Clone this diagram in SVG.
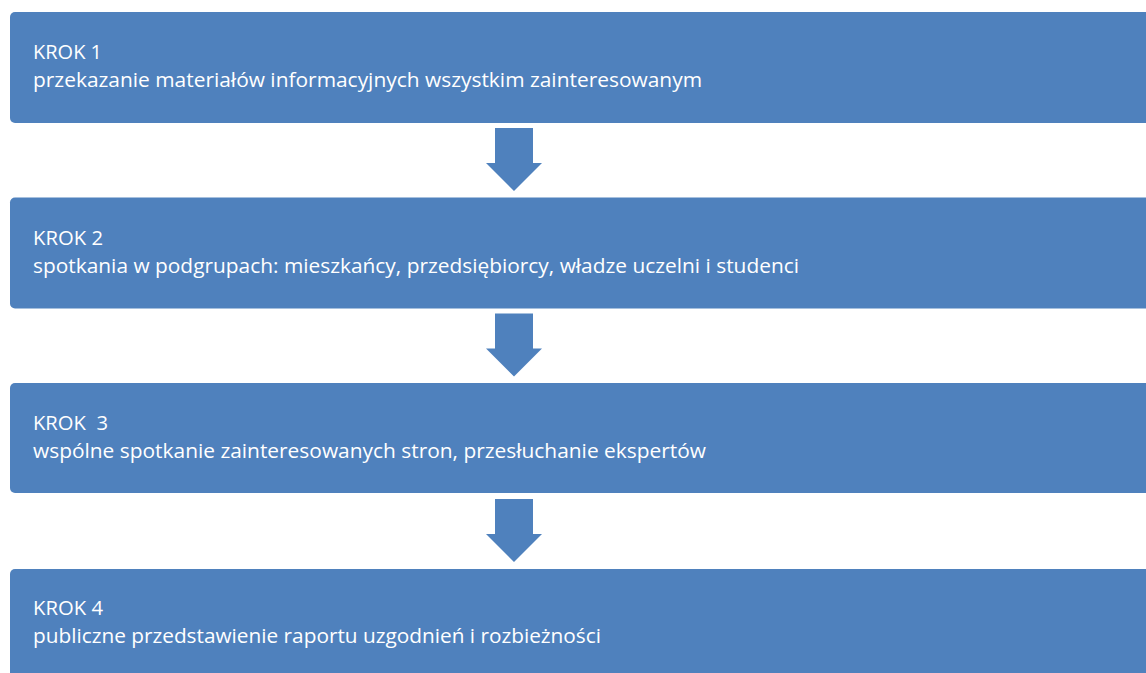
<svg xmlns="http://www.w3.org/2000/svg" width="1146" height="673" viewBox="0 0 1146 673">
<style>
.box{fill:#4F81BD;}
.arrow{fill:#4F81BD;}
.t{font-family:"Open Sans","Liberation Sans",sans-serif;font-size:20.5px;fill:#FFFFFF;}
</style>
<rect width="1146" height="673" fill="#FFFFFF"/>
<g id="connectors">
<polygon class="arrow" points="495,128 533,128 533,163 542,163 514,191 486,163 495,163"/>
<polygon class="arrow" points="495,313.5 533,313.5 533,348.5 542,348.5 514,376.5 486,348.5 495,348.5"/>
<polygon class="arrow" points="495,499 533,499 533,534 542,534 514,562 486,534 495,534"/>
</g>
<g id="step1">
<rect class="box" x="10" y="12" width="1150" height="111" rx="5"/>
<text class="t" x="33" y="59" textLength="69" lengthAdjust="spacingAndGlyphs">KROK 1</text>
<text class="t" x="33" y="87" textLength="669" lengthAdjust="spacingAndGlyphs">przekazanie materiałów informacyjnych wszystkim zainteresowanym</text>
</g>
<g id="step2">
<rect class="box" x="10" y="197.5" width="1150" height="111" rx="5"/>
<text class="t" x="33" y="244.5" textLength="70" lengthAdjust="spacingAndGlyphs">KROK 2</text>
<text class="t" x="33" y="272.5" textLength="766" lengthAdjust="spacingAndGlyphs">spotkania w podgrupach: mieszkańcy, przedsiębiorcy, władze uczelni i studenci</text>
</g>
<g id="step3">
<rect class="box" x="10" y="383" width="1150" height="110" rx="5"/>
<text class="t" x="33" y="429.5" textLength="75" lengthAdjust="spacingAndGlyphs" xml:space="preserve">KROK  3</text>
<text class="t" x="33" y="458" textLength="673" lengthAdjust="spacingAndGlyphs">wspólne spotkanie zainteresowanych stron, przesłuchanie ekspertów</text>
</g>
<g id="step4">
<rect class="box" x="10" y="569" width="1150" height="120" rx="5"/>
<text class="t" x="33" y="615" textLength="70" lengthAdjust="spacingAndGlyphs">KROK 4</text>
<text class="t" x="33" y="643" textLength="568" lengthAdjust="spacingAndGlyphs">publiczne przedstawienie raportu uzgodnień i rozbieżności</text>
</g>
</svg>
